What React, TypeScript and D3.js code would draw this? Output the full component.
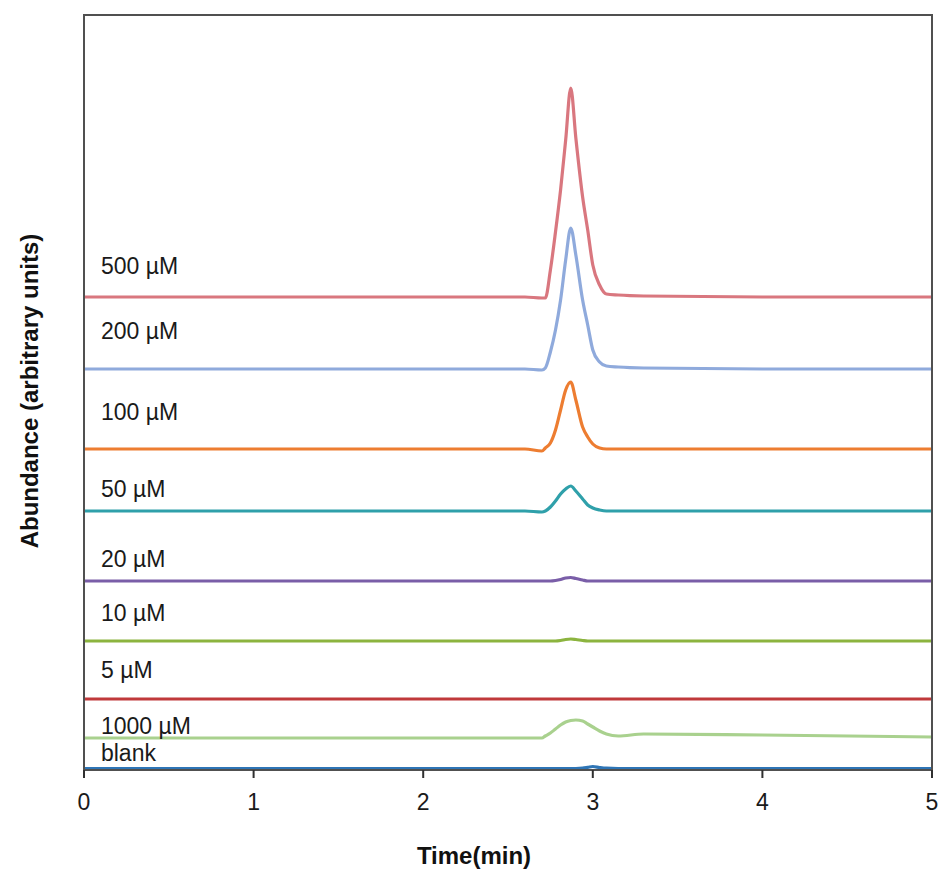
import React from "react";
import * as d3 from "d3";

// Retention time grid (min)
const times = [0, 2.6, 2.7, 2.72, 2.75, 2.78, 2.81, 2.84, 2.87, 2.9, 2.94, 2.97, 3.0, 3.04, 3.08, 3.15, 3.3, 4.0, 5.0];

// Stacked abundance traces (arbitrary units, offset)
const s500 = [473, 473, 472, 472, 500, 538, 580, 630, 682, 632, 573, 540, 505, 485, 476, 475, 474, 473, 473];
const s200 = [401, 401, 400, 402, 418, 440, 470, 510, 542, 515, 470, 445, 420, 408, 404, 403, 402, 401, 401];
const s100 = [321, 321, 319, 322, 327, 340, 360, 380, 388, 370, 343, 333, 326, 322, 321, 321, 321, 321, 321];
const s50 = [259, 259, 258, 259, 263, 269, 276, 281, 284, 279, 271, 265, 262, 260, 259, 259, 259, 259, 259];
const s20 = [189, 189, 189, 189, 189, 189.5, 190.5, 192, 192.5, 191.5, 190, 189, 189, 189, 189, 189, 189, 189, 189];
const s10 = [129, 129, 129, 129, 129, 129, 129.5, 130.5, 131, 130.5, 129.5, 129, 129, 129, 129, 129, 129, 129, 129];
const s5 = [71, 71, 71, 71, 71, 71, 71, 71, 71, 71, 71, 71, 71, 71, 71, 71, 71, 71, 71];
const s1000 = [32, 32, 32, 34, 37, 41, 45, 48, 49.5, 50, 49, 46, 43, 39, 36, 34, 36, 35, 33];
const sBlank = [1.5, 1.5, 1.5, 1.5, 1.5, 1.5, 1.5, 1.5, 1.5, 1.5, 1.8, 2.6, 3.5, 2.5, 1.8, 1.5, 1.5, 1.5, 1.5];

const seriesNames = ["blank", "1000 µM", "5 µM", "10 µM", "20 µM", "50 µM", "100 µM", "200 µM", "500 µM"];
const seriesValues = [sBlank, s1000, s5, s10, s20, s50, s100, s200, s500];
const seriesColors = ["#2e75b6", "#a9d18e", "#c0393b", "#8cb43f", "#7a5ea8", "#2fa0aa", "#ed7d31", "#8faadc", "#d9777f"];
// label baseline positions in abundance units
const labelLevels = [9, 36, 92, 149, 203, 273, 350, 431, 496];

const xTicks = [0, 1, 2, 3, 4, 5];
const xTitle = "Time(min)";
const yTitle = "Abundance (arbitrary units)";

export default function App() {
  const W = 942, H = 869;
  const left = 84, right = 932, top = 15, bottom = 770;
  const x = d3.scaleLinear().domain([0, 5]).range([left, right]);
  const y = d3.scaleLinear().domain([0, 755]).range([bottom, top]);
  const line = d3
    .line<number>()
    .x((_, i) => x(times[i]))
    .y((d) => y(d))
    .curve(d3.curveMonotoneX);
  const font = "'Liberation Sans', Arial, sans-serif";

  return (
    <svg
      width={W}
      height={H}
      style={{ position: "absolute", left: 0, top: 0, background: "#fff" }}
      fontFamily={font}
    >
      <rect x={0} y={0} width={W} height={H} fill="#fff" />
      {seriesValues.map((vals, i) => (
        <path
          key={seriesNames[i]}
          d={line(vals) || ""}
          fill="none"
          stroke={seriesColors[i]}
          strokeWidth={3.2}
          strokeLinejoin="round"
        />
      ))}
      {seriesNames.map((n, i) => (
        <text key={n} x={x(0.1)} y={y(labelLevels[i])} fontSize={23} fill="#1a1a1a">
          {n}
        </text>
      ))}
      <rect
        x={left}
        y={top}
        width={right - left}
        height={bottom - top}
        fill="none"
        stroke="#505050"
        strokeWidth={2}
      />
      {xTicks.map((t) => (
        <g key={t}>
          <line x1={x(t)} x2={x(t)} y1={bottom} y2={bottom + 8} stroke="#303030" strokeWidth={2} />
          <text x={x(t)} y={810} textAnchor="middle" fontSize={23} fill="#1a1a1a">
            {t}
          </text>
        </g>
      ))}
      <text x={474} y={864} textAnchor="middle" fontSize={24} fontWeight="bold" fill="#111">
        {xTitle}
      </text>
      <text
        transform={`translate(38, ${391}) rotate(-90)`}
        textAnchor="middle"
        fontSize={24}
        fontWeight="bold"
        fill="#111"
      >
        {yTitle}
      </text>
    </svg>
  );
}
